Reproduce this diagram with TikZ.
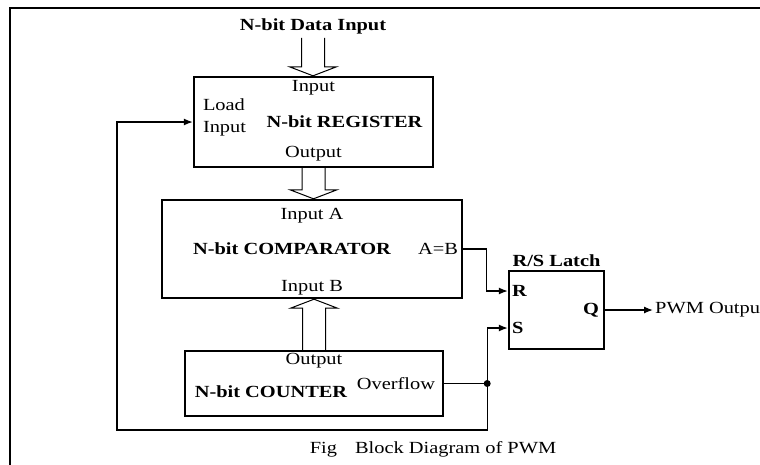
\documentclass[tikz,border=0pt]{standalone}
\usepackage{fontspec}
\setmainfont{Liberation Serif}[FakeStretch=1.2]
\usetikzlibrary{arrows.meta,positioning,calc}
\tikzset{
  blk/.style={draw, line width=2.4pt, inner sep=0pt},
  lbl/.style={font=\fontsize{17}{22}\selectfont, inner sep=1pt},
  hdr/.style={font=\fontsize{17}{22}\selectfont\bfseries, inner sep=1pt},
  wire/.style={line width=1.3pt},
  arr/.style={wire, -{Latex[length=9pt,width=7pt]}},
  % hollow bus arrow between two points
  bus/.style={line width=1pt, to path={
    (\tikztostart) coordinate (b0) (\tikztotarget) coordinate (b1)
    ($(b1)!9pt!(b0)$) coordinate (bh)
    ($(b0)!11.5pt!90:(b1)$) -- ($(bh)!11.5pt!90:(b1)$)
      -- ($(bh)!23.5pt!90:(b1)$) -- (b1)
      -- ($(bh)!23.5pt!-90:(b1)$) -- ($(bh)!11.5pt!-90:(b1)$)
      -- ($(b0)!11.5pt!-90:(b1)$)}}
}

\begin{document}
\begin{tikzpicture}[x=1pt,y=-1pt]
\fill[white] (0,0) rectangle (760,464);
\useasboundingbox (0,0) rectangle (760,464);
\draw[line width=1.6pt] (10,480) -- (10,8) -- (780,8);

\node[hdr, inner sep=4pt] (din) at (313,26) {N-bit Data Input};

% blocks
\node[blk, minimum width=239pt, minimum height=90pt] (reg) at (313.5,122) {};
\node[blk, minimum width=300pt, minimum height=98pt] (cmp) at (312,249) {};
\node[blk, minimum width=258pt, minimum height=65pt] (cnt) at (314,383.5) {};
\node[blk, minimum width=95pt, minimum height=78pt] (latch) at (556.5,310) {};

% register
\node[lbl] (regin) at ([yshift=-12pt]reg.north) {Input};
\node[lbl, align=left, anchor=west] (regld) at ([xshift=9pt, yshift=5pt]reg.west) {Load\\Input};
\node[hdr] (regname) at ([xshift=31pt]reg.center) {N-bit REGISTER};
\node[lbl] (regout) at ([yshift=15pt]reg.south) {Output};

% comparator
\node[lbl] (cmpa) at ([yshift=-17pt]cmp.north) {Input A};
\node[hdr] (cmpname) at ([xshift=-20pt]cmp.center) {N-bit COMPARATOR};
\node[lbl, anchor=east] (cmpeq) at ([xshift=-4pt]cmp.east) {A=B};
\node[lbl] (cmpb) at ([yshift=11pt]cmp.south) {Input B};

% counter
\node[lbl] (cntout) at ([yshift=-11pt]cnt.north) {Output};
\node[hdr] (cntname) at ([xshift=-43pt, yshift=-8.5pt]cnt.center) {N-bit COUNTER};
\node[lbl, anchor=east] (cntov) at ([xshift=-8pt]cnt.east) {Overflow};

% latch
\node[hdr, above=2pt of latch] (latchname) {R/S Latch};
\node[hdr, anchor=west] (rlab) at ([xshift=3pt, yshift=19pt]latch.west) {R};
\node[hdr, anchor=west] (slab) at ([xshift=3pt, yshift=-18pt]latch.west) {S};
\node[hdr, anchor=east] (qlab) at ([xshift=-5pt]latch.east) {Q};

\node[lbl, anchor=west, inner sep=2pt] (pwm) at (653,310) {PWM Output};
\node[lbl] (cap) at (433,449) {Fig\hspace{18pt}Block Diagram of PWM};

% buses
\draw[bus] (din.south) to (din.south |- reg.north);
\draw[bus] (reg.south) to (reg.south |- cmp.north);
\draw[bus] (cnt.north) to (cnt.north |- cmp.south);

% wires
\coordinate (junc) at ($(cnt.east)+(43,0)$);
\coordinate (loopl) at (117,430);
\draw[wire] (cnt.east) -- (junc);
\fill (junc) circle (3.5pt);
\draw[arr] (junc) |- (loopl) |- (reg.west);
\draw[arr] (junc) |- ([yshift=-18pt]latch.west);
\draw[arr] (cmp.east) -- ++(23,0) |- ([yshift=19pt]latch.west);
\draw[arr] (latch.east) -- (pwm.west);
\end{tikzpicture}
\end{document}
